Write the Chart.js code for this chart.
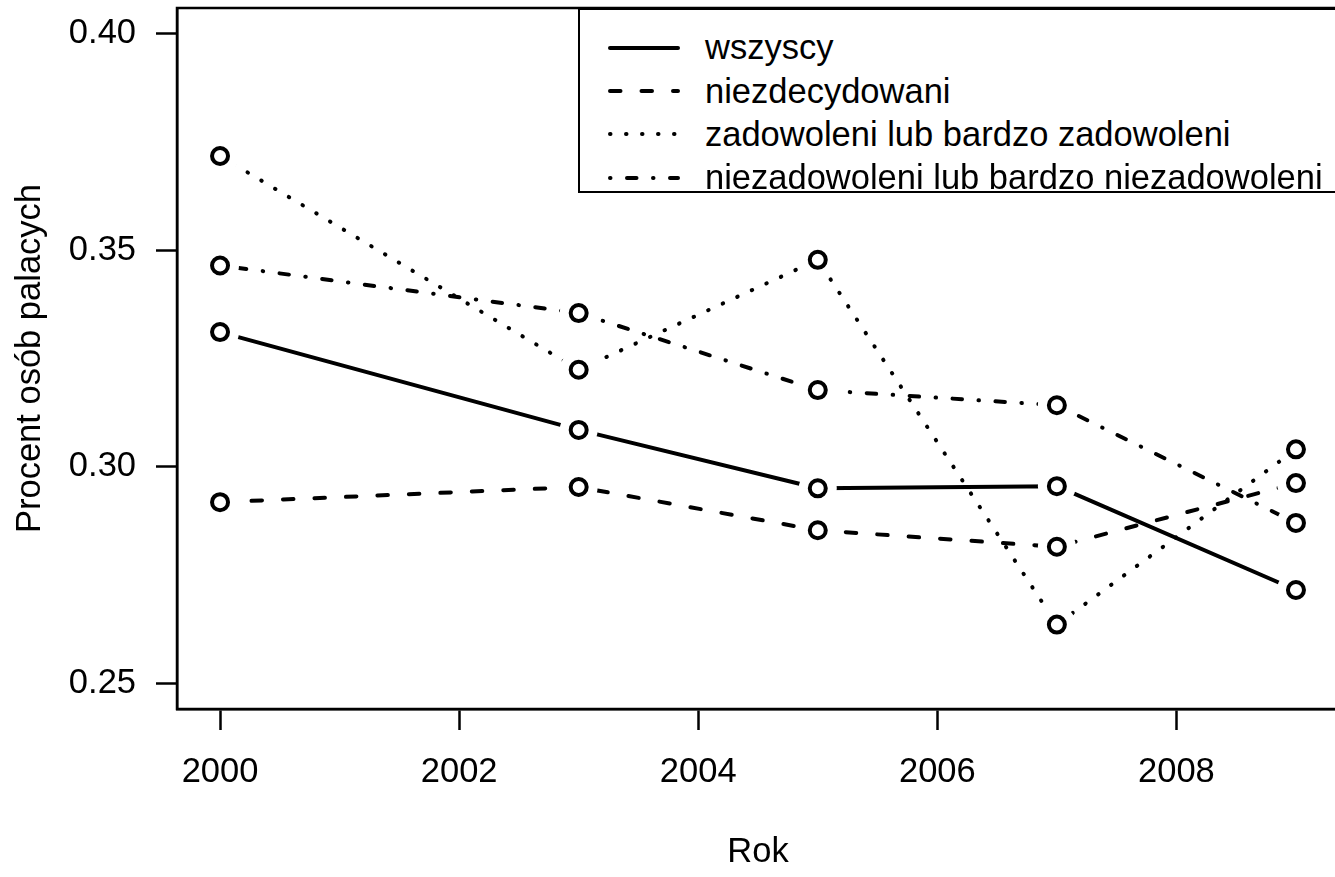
<!DOCTYPE html>
<html><head><meta charset="utf-8">
<script src="https://cdn.jsdelivr.net/npm/chart.js@4.4.1/dist/chart.umd.min.js"></script>
<style>
html,body{margin:0;padding:0;background:#fff;overflow:hidden;}
#wrap{position:relative;width:1345px;height:877px;}
#legend{position:absolute;border:2px solid #000;box-sizing:border-box;background:#fff;
  font-family:"Liberation Sans",Arial,sans-serif;font-size:34.5px;color:#000;
  padding:16px 0 0 28px;height:185px;width:761px;}
.row{display:flex;align-items:center;height:43.4px;white-space:nowrap;}
.row svg{margin-right:25px;flex:none;}
</style></head><body>
<div id="wrap"><canvas id="c" width="1345" height="877"></canvas><div id="legend"></div></div>
<script>
const years = [2000, 2003, 2005, 2007, 2009];
const seriesNames = ['wszyscy', 'niezdecydowani', 'zadowoleni lub bardzo zadowoleni', 'niezadowoleni lub bardzo niezadowoleni'];
const wszyscy = [0.3311, 0.3085, 0.2950, 0.2955, 0.2715];
const niezdecydowani = [0.2918, 0.2953, 0.2853, 0.2815, 0.2962];
const zadowoleni = [0.3718, 0.3224, 0.3478, 0.2635, 0.3040];
const niezadowoleni = [0.3465, 0.3355, 0.3177, 0.3142, 0.2870];
const xTicks = [2000, 2002, 2004, 2006, 2008];
const yTicks = [0.25, 0.30, 0.35, 0.40];
const xTitle = 'Rok';
const yTitle = 'Procent osób palacych';

const FONT = '"Liberation Sans", Arial, sans-serif';
const FS = 34.5;
const LW = 4;
// R line types: solid, dashed, dotted, dotdash
const dashes = [[], [10.5, 21], [0.5, 15.5], [0.5, 16.5, 9.5, 16.5]];
const allSeries = [wszyscy, niezdecydowani, zadowoleni, niezadowoleni];

const datasets = allSeries.map((vals, i) => ({
  label: seriesNames[i],
  data: years.map((y, j) => ({x: y, y: vals[j]})),
  borderColor: '#000',
  borderWidth: LW,
  borderDash: dashes[i],
  borderCapStyle: 'round',
  borderJoinStyle: 'round',
  fill: false,
  tension: 0,
  pointRadius: 8,
  pointBorderWidth: 4,
  pointBorderColor: '#000',
  pointBackgroundColor: 'rgba(0,0,0,0)',
  pointHoverRadius: 8
}));

// R type="b": leave a gap in the line around every point
const GAP = 19;
const gapPlugin = {
  id: 'gaps',
  beforeDatasetDraw(chart, args) {
    const ctx = chart.ctx;
    ctx.save();
    ctx.beginPath();
    ctx.rect(0, 0, chart.width, chart.height);
    args.meta.data.forEach(p => {
      ctx.moveTo(p.x + GAP, p.y);
      ctx.arc(p.x, p.y, GAP, 0, Math.PI * 2, true);
    });
    ctx.clip('evenodd');
  },
  afterDatasetDraw(chart, args) {
    chart.ctx.restore();
    args.meta.data.forEach(p => p.draw(chart.ctx, chart.chartArea));
  }
};

const boxPlugin = {
  id: 'box',
  afterDraw(chart) {
    const {left, top, right, bottom} = chart.chartArea;
    const ctx = chart.ctx;
    ctx.save();
    ctx.strokeStyle = '#000';
    ctx.lineWidth = 2.5;
    ctx.strokeRect(left, top, right - left, bottom - top);
    ctx.restore();
  }
};

function buildLegend(chart) {
  const el = document.getElementById('legend');
  el.innerHTML = '';
  chart.data.datasets.forEach(ds => {
    const row = document.createElement('div');
    row.className = 'row';
    const svgNS = 'http://www.w3.org/2000/svg';
    const svg = document.createElementNS(svgNS, 'svg');
    svg.setAttribute('width', '72');
    svg.setAttribute('height', '12');
    const ln = document.createElementNS(svgNS, 'line');
    ln.setAttribute('x1', '2'); ln.setAttribute('x2', '70');
    ln.setAttribute('y1', '6'); ln.setAttribute('y2', '6');
    ln.setAttribute('stroke', '#000');
    ln.setAttribute('stroke-width', String(ds.borderWidth));
    ln.setAttribute('stroke-linecap', 'round');
    if (ds.borderDash.length) ln.setAttribute('stroke-dasharray', ds.borderDash.join(' '));
    svg.appendChild(ln);
    const span = document.createElement('span');
    span.textContent = ds.label;
    row.appendChild(svg);
    row.appendChild(span);
    el.appendChild(row);
  });
}
const legendPlugin = {
  id: 'htmlLegend',
  afterRender(chart) {
    const el = document.getElementById('legend');
    if (!el.childNodes.length) buildLegend(chart);
    el.style.top = chart.chartArea.top + 'px';
    el.style.right = (chart.width - chart.chartArea.right) + 'px';
  }
};

const axisCommon = {
  grid: {display: true, drawOnChartArea: false, drawTicks: true, tickLength: 21, tickWidth: 2.5, tickColor: '#000', color: '#000'},
  border: {display: true, color: '#000', width: 2.5}
};
const noPad = s => { s.paddingTop = 0; s.paddingBottom = 0; s.paddingLeft = 0; s.paddingRight = 0; };

new Chart(document.getElementById('c'), {
  type: 'line',
  data: {datasets},
  options: {
    responsive: false,
    animation: false,
    events: [],
    layout: {autoPadding: false, padding: {top: 8, right: 6, left: 0, bottom: 0}},
    plugins: {legend: {display: false}, tooltip: {enabled: false}},
    scales: {
      x: {
        type: 'linear',
        min: 1999.64, max: 2009.36,
        afterBuildTicks: s => { s.ticks = xTicks.map(v => ({value: v})); },
        afterFit: s => { s.height = 168; noPad(s); },
        ticks: {color: '#000', font: {family: FONT, size: FS}, padding: 22, maxRotation: 0, autoSkip: false,
          callback: v => String(v)},
        title: {display: true, text: xTitle, color: '#000', font: {family: FONT, size: FS}, padding: {top: 0, bottom: 4}},
        ...axisCommon
      },
      y: {
        type: 'linear',
        min: 0.244, max: 0.406,
        afterBuildTicks: s => { s.ticks = yTicks.map(v => ({value: v})); },
        afterFit: s => { s.width = 177; noPad(s); },
        ticks: {color: '#000', font: {family: FONT, size: FS}, padding: 20, autoSkip: false,
          callback: v => v.toFixed(2)},
        title: {display: true, text: yTitle, color: '#000', font: {family: FONT, size: FS}, padding: {top: 10, bottom: 0}},
        ...axisCommon
      }
    }
  },
  plugins: [gapPlugin, boxPlugin, legendPlugin]
});
</script>
</body></html>
